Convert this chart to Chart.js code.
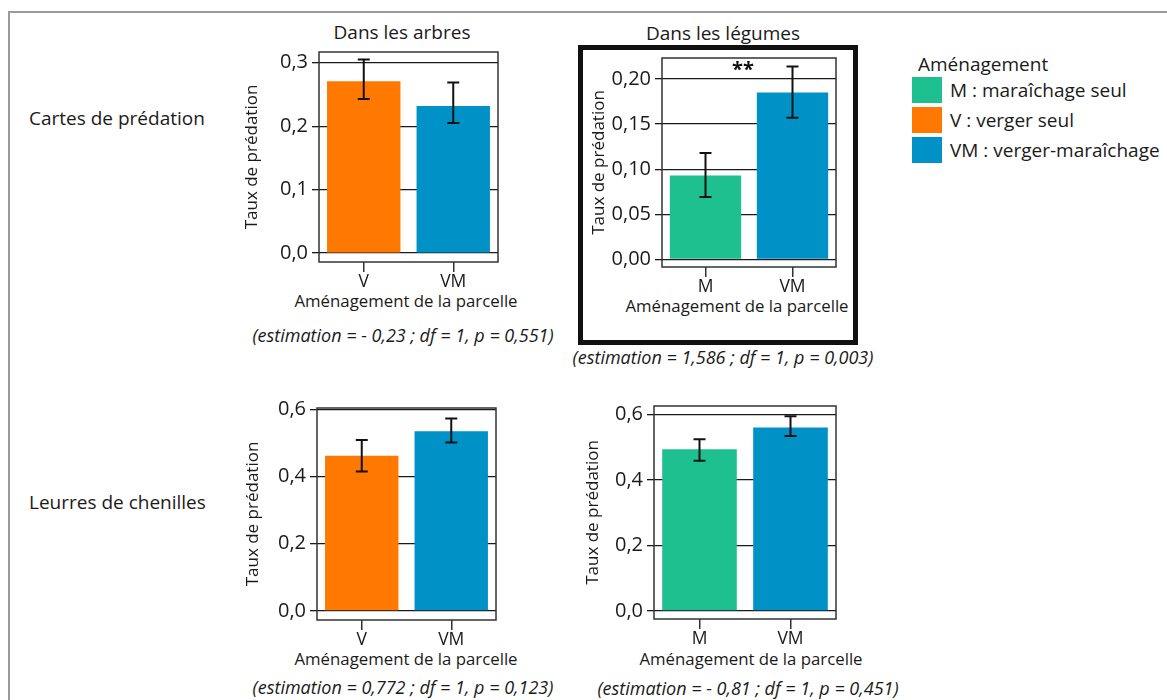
<!DOCTYPE html>
<html><head><meta charset="utf-8">
<script src="https://cdn.jsdelivr.net/npm/chart.js@4.4.0/dist/chart.umd.min.js"></script>
<style>
body{margin:0;width:1167px;height:700px;overflow:hidden;background:#fff;font-family:"Open Sans",sans-serif;color:#1a1a1a;position:relative}
.abs{position:absolute;white-space:nowrap}
.c{transform:translate(-50%,-50%)}
.l{transform:translate(0,-50%)}
.frame{left:8px;top:11px;width:1170px;height:700px;border-top:2px solid #9a9a9a;border-left:2px solid #9a9a9a}
.title{font-size:19px}
.xt{font-size:16.8px}
.est{font-size:18px;font-style:italic}
.row{font-size:19px}
.box{left:578px;top:45px;width:270px;height:290px;border:5px solid #111}
.sw{width:30px;height:26px}
.lg{font-size:19px}
canvas{position:absolute}
</style></head><body>
<div class="abs frame"></div>
<div class="abs box"></div>
<div class="abs row l" style="left:29px;top:118px">Cartes de prédation</div>
<div class="abs row l" style="left:29px;top:502px">Leurres de chenilles</div>
<div class="abs title c" style="left:402px;top:32px">Dans les arbres</div>
<div class="abs title c" style="left:723px;top:33px">Dans les légumes</div>
<div class="abs xt c" style="left:406px;top:300px">Aménagement de la parcelle</div>
<div class="abs xt c" style="left:737px;top:305px">Aménagement de la parcelle</div>
<div class="abs xt c" style="left:406px;top:658px">Aménagement de la parcelle</div>
<div class="abs xt c" style="left:751px;top:658px">Aménagement de la parcelle</div>
<div class="abs est c" style="left:403px;top:335px">(estimation = - 0,23 ; df = 1, p = 0,551)</div>
<div class="abs est c" style="left:723px;top:357px">(estimation = 1,586 ; df = 1, p = 0,003)</div>
<div class="abs est c" style="left:403px;top:687px">(estimation = 0,772 ; df = 1, p = 0,123)</div>
<div class="abs est c" style="left:748px;top:688px">(estimation = - 0,81 ; df = 1, p = 0,451)</div>
<div id="legend"></div>
<canvas id="c1"></canvas><canvas id="c2"></canvas><canvas id="c3"></canvas><canvas id="c4"></canvas>
<script>
// ---- data ----
const categoriesArbres = ['V', 'VM'];
const categoriesLegumes = ['M', 'VM'];
const cartesArbresValues = [0.271, 0.232];
const cartesArbresLow = [0.243, 0.205];
const cartesArbresHigh = [0.305, 0.269];
const cartesLegumesValues = [0.093, 0.185];
const cartesLegumesLow = [0.069, 0.157];
const cartesLegumesHigh = [0.118, 0.214];
const leurresArbresValues = [0.462, 0.535];
const leurresArbresLow = [0.415, 0.501];
const leurresArbresHigh = [0.509, 0.573];
const leurresLegumesValues = [0.494, 0.560];
const leurresLegumesLow = [0.459, 0.534];
const leurresLegumesHigh = [0.524, 0.595];
const ticksCartesArbres = [0, 0.1, 0.2, 0.3];
const ticksCartesLegumes = [0, 0.05, 0.10, 0.15, 0.20];
const ticksLeurres = [0, 0.2, 0.4, 0.6];
const legendLabels = ['M : maraîchage seul', 'V : verger seul', 'VM : verger-maraîchage'];
const legendKeys = ['M', 'V', 'VM'];

const COLORS = {M: '#1fc08f', V: '#ff7800', VM: '#0092c6'};
const FONT = '"Open Sans", sans-serif';
const YT_SIZE = 17;

// legend
const lg = document.getElementById('legend');
let h = '<div class="abs lg l" style="left:918px;top:64px">Aménagement</div>';
legendKeys.forEach((k, i) => {
  const y = 77 + i * 30;
  h += `<div class="abs sw" style="left:912px;top:${y}px;background:${COLORS[k]}"></div>`;
  h += `<div class="abs lg l" style="left:950px;top:${y + 13}px">${legendLabels[i]}</div>`;
});
lg.innerHTML = h;

const errPlugin = {
  id: 'errbars',
  afterDatasetsDraw(chart, args, opts) {
    const {ctx, chartArea: a, scales: {x, y}} = chart;
    const meta = chart.getDatasetMeta(0);
    ctx.save();
    ctx.strokeStyle = '#111';
    ctx.lineWidth = 2;
    opts.low.forEach((lo, i) => {
      const px = meta.data[i].x;
      const y1 = y.getPixelForValue(lo), y2 = y.getPixelForValue(opts.high[i]);
      ctx.beginPath();
      ctx.moveTo(px, y1); ctx.lineTo(px, y2);
      ctx.moveTo(px - 6, y1); ctx.lineTo(px + 6, y1);
      ctx.moveTo(px - 6, y2); ctx.lineTo(px + 6, y2);
      ctx.stroke();
    });
    if (opts.star) {
      ctx.fillStyle = '#111';
      ctx.font = 'bold 20px ' + FONT;
      ctx.textAlign = 'center';
      ctx.textBaseline = 'middle';
      ctx.fillText(opts.star, (a.left + a.right) / 2 - 6, a.top + 12);
    }
    ctx.strokeStyle = '#333';
    ctx.lineWidth = 1.5;
    ctx.strokeRect(a.left, a.top, a.right - a.left, a.bottom - a.top);
    ctx.restore();
  }
};

function makeChart(id, g, cats, vals, low, high, ticks, yMin, yMax, dec, star) {
  const L = Math.round(g.titleX - YT_SIZE * 0.6), T = g.top - 16, R = g.right + 8, B = g.bottom + 34;
  const cv = document.getElementById(id);
  cv.style.left = L + 'px'; cv.style.top = T + 'px';
  cv.style.width = (R - L) + 'px'; cv.style.height = (B - T) + 'px';
  cv.width = R - L; cv.height = B - T;
  new Chart(cv, {
    type: 'bar',
    data: {labels: cats, datasets: [{data: vals, backgroundColor: cats.map(c => COLORS[c]),
      barPercentage: 0.82, categoryPercentage: 1}]},
    options: {
      responsive: false, animation: false, devicePixelRatio: 1,
      layout: {padding: {top: 16, right: 8, left: 0, bottom: 0}},
      plugins: {legend: {display: false}, tooltip: {enabled: false},
        errbars: {low, high, star}},
      scales: {
        x: {
          grid: {drawOnChartArea: false, drawTicks: true, tickLength: 10, offset: false, color: '#333', lineWidth: 1.5},
          border: {display: false},
          ticks: {color: '#1a1a1a', font: {family: FONT, size: 17.5}, padding: 0},
          afterFit: s => { s.height = B - g.bottom; }
        },
        y: {
          min: yMin, max: yMax,
          afterBuildTicks: s => { s.ticks = ticks.map(v => ({value: v})); },
          grid: {color: '#1a1a1a', lineWidth: 1.3, tickLength: 7},
          border: {display: false},
          ticks: {color: '#1a1a1a', font: {family: FONT, size: 20}, padding: 4,
            callback: v => v.toFixed(dec).replace('.', ',')},
          title: {display: true, text: 'Taux de prédation', color: '#1a1a1a', font: {family: FONT, size: YT_SIZE}, padding: {top: 0, bottom: 0}},
          afterFit: s => { s.width = g.left - L; }
        }
      }
    },
    plugins: [errPlugin]
  });
}

makeChart('c1', {left: 319, top: 52, right: 498, bottom: 262, titleX: 252},
  categoriesArbres, cartesArbresValues, cartesArbresLow, cartesArbresHigh, ticksCartesArbres, -0.014, 0.317, 1, null);
makeChart('c2', {left: 662, top: 58, right: 836, bottom: 267, titleX: 599},
  categoriesLegumes, cartesLegumesValues, cartesLegumesLow, cartesLegumesHigh, ticksCartesLegumes, -0.0085, 0.2233, 2, '**');
makeChart('c3', {left: 317, top: 408, right: 496, bottom: 620, titleX: 253},
  categoriesArbres, leurresArbresValues, leurresArbresLow, leurresArbresHigh, ticksLeurres, -0.027, 0.604, 1, null);
makeChart('c4', {left: 654, top: 406, right: 836, bottom: 619, titleX: 593},
  categoriesLegumes, leurresLegumesValues, leurresLegumesLow, leurresLegumesHigh, ticksLeurres, -0.025, 0.626, 1, null);
</script>
</body></html>
